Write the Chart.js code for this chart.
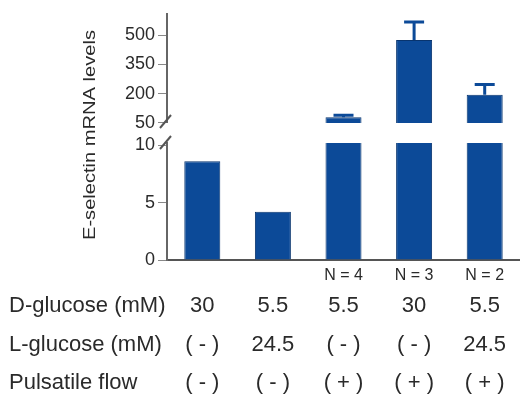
<!DOCTYPE html>
<html lang="en">
<head>
    <meta charset="UTF-8">
    <title>E-selectin mRNA levels</title>
    <script src="https://cdn.jsdelivr.net/npm/chart.js"></script>
    <style>
        body { margin: 0; background: #fff; }
        .wrap { position: relative; width: 520px; height: 398px; }
        .wrap canvas { position: absolute; left: 0; top: 0; }
    </style>
</head>
<body>
    <div class="wrap">
        <canvas id="lowerChart" width="520" height="398"></canvas>
        <canvas id="upperChart" width="520" height="398"></canvas>
    </div>

    <script>
        // Data
        const groups = ['A', 'B', 'C', 'D', 'E'];
        const levels = [8.6, 4.2, 79, 476, 195];
        const errorTops = [null, null, 90, 568, 248];
        const nLabels = ['', '', 'N = 4', 'N = 3', 'N = 2'];
        const dGlucose = ['30', '5.5', '5.5', '30', '5.5'];
        const lGlucose = ['( - )', '24.5', '( - )', '( - )', '24.5'];
        const pulsatile = ['( - )', '( - )', '( + )', '( + )', '( + )'];
        const rowTitles = ['D-glucose (mM)', 'L-glucose (mM)', 'Pulsatile flow'];
        const upperTicks = [50, 200, 350, 500];
        const lowerTicks = [0, 5, 10];

        const BAR = '#0c4a98';
        const BAR_EDGE = '#08346e';
        const AXIS = '#666';
        const TEXT = '#2a2a2a';
        const FONT = "'Liberation Sans', Arial, sans-serif";

        function drawBreak(ctx, x, y) {
            ctx.save();
            ctx.strokeStyle = '#555';
            ctx.lineWidth = 2;
            ctx.beginPath();
            ctx.moveTo(x - 7, y + 6);
            ctx.lineTo(x + 4, y - 7);
            ctx.stroke();
            ctx.restore();
        }

        // error bars, break mark and y title on the upper panel
        const upperExtras = {
            id: 'upperExtras',
            afterDatasetsDraw(chart) {
                const { ctx, scales: { x, y }, chartArea } = chart;
                ctx.save();
                ctx.strokeStyle = BAR;
                ctx.lineWidth = 3;
                errorTops.forEach((top, i) => {
                    if (top === null) return;
                    const cx = x.getPixelForValue(i);
                    ctx.beginPath();
                    ctx.moveTo(cx, y.getPixelForValue(levels[i]));
                    ctx.lineTo(cx, y.getPixelForValue(top));
                    ctx.moveTo(cx - 10, y.getPixelForValue(top));
                    ctx.lineTo(cx + 10, y.getPixelForValue(top));
                    ctx.stroke();
                });
                ctx.restore();
                drawBreak(ctx, chartArea.left, chartArea.bottom - 1);

                ctx.save();
                ctx.fillStyle = TEXT;
                ctx.font = '17px ' + FONT;
                ctx.textAlign = 'center';
                ctx.textBaseline = 'middle';
                ctx.translate(90, 135);
                ctx.rotate(-Math.PI / 2);
                const t = 'E-selectin mRNA levels';
                const w = ctx.measureText(t).width;
                ctx.scale(210 / w, 1);
                ctx.fillText(t, 0, 0);
                ctx.restore();
            }
        };

        // N labels, condition table and break mark on the lower panel
        const lowerExtras = {
            id: 'lowerExtras',
            afterDraw(chart) {
                const { ctx, scales: { x }, chartArea } = chart;
                drawBreak(ctx, chartArea.left, chartArea.top);
                ctx.save();
                ctx.fillStyle = TEXT;
                ctx.textBaseline = 'middle';
                ctx.textAlign = 'center';
                ctx.font = '16px ' + FONT;
                nLabels.forEach((n, i) => ctx.fillText(n, x.getPixelForValue(i), 276));

                const rows = [dGlucose, lGlucose, pulsatile];
                const rowY = [306, 345, 383];
                ctx.font = '22px ' + FONT;
                rows.forEach((row, r) => {
                    ctx.textAlign = 'left';
                    ctx.fillText(rowTitles[r], 9, rowY[r]);
                    ctx.textAlign = 'center';
                    row.forEach((v, i) => ctx.fillText(v, x.getPixelForValue(i), rowY[r]));
                });
                ctx.restore();
            }
        };

        function yScale(min, max, ticks) {
            return {
                min: min,
                max: max,
                afterBuildTicks: (s) => { s.ticks = ticks.map(v => ({ value: v })); },
                afterFit: (s) => { s.width = 167; },
                grid: { drawOnChartArea: false, tickLength: 9, color: '#888' },
                border: { color: AXIS, width: 2 },
                ticks: { color: TEXT, padding: 3, font: { size: 18, family: FONT } }
            };
        }

        const barData = {
            labels: groups,
            datasets: [{
                data: levels,
                backgroundColor: BAR,
                borderColor: BAR_EDGE,
                borderWidth: 1,
                barPercentage: 0.51,
                categoryPercentage: 1
            }]
        };

        const common = {
            responsive: false,
            animation: false,
            plugins: { legend: { display: false }, tooltip: { enabled: false } }
        };

        new Chart(document.getElementById('upperChart'), {
            type: 'bar',
            data: barData,
            options: {
                ...common,
                layout: { padding: { top: 7, bottom: 275, left: 0, right: 0 } },
                scales: {
                    x: { display: false },
                    y: yScale(50, 610, upperTicks)
                }
            },
            plugins: [upperExtras]
        });

        new Chart(document.getElementById('lowerChart'), {
            type: 'bar',
            data: barData,
            options: {
                ...common,
                layout: { padding: { top: 143, bottom: 138, left: 0, right: 0 } },
                scales: {
                    x: {
                        grid: { display: false, drawTicks: false },
                        ticks: { display: false },
                        border: { color: '#555', width: 2 },
                        afterFit: (s) => { s.height = 0; }
                    },
                    y: yScale(0, 10.2, lowerTicks)
                }
            },
            plugins: [lowerExtras]
        });
    </script>
</body>
</html>
